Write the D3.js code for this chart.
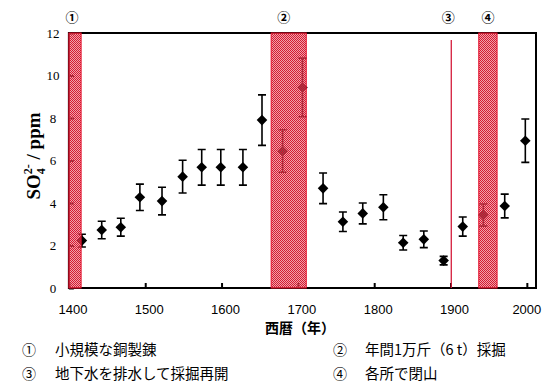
<!DOCTYPE html>
<html><head><meta charset="utf-8">
<script src="https://cdn.jsdelivr.net/npm/d3@7"></script>
<style>html,body{margin:0;padding:0;background:#fff;}svg{display:block;}</style>
</head><body>
<svg id="c" width="542" height="382"></svg>
<script>
// ---- data ----
const years  = [1417,1443,1468,1493,1522,1549,1574,1599,1628,1653,1680,1706,1733,1759,1785,1812,1838,1865,1891,1916,1943,1971,1998];
const values = [2.23,2.73,2.86,4.27,4.09,5.24,5.68,5.68,5.68,7.9,6.45,9.44,4.69,3.12,3.51,3.8,2.13,2.29,1.29,2.89,3.43,3.86,6.93];
const errors = [0.3,0.41,0.42,0.62,0.65,0.77,0.84,0.84,0.84,1.19,1.0,1.38,0.72,0.46,0.49,0.59,0.34,0.39,0.2,0.45,0.52,0.56,1.02];
const bandStarts = [1400,1665,1937];
const bandEnds   = [1416,1711,1961];
const bandLabels = ["①","②","④"];
const lineYear = 1901;
const lineLabel = "③";
const xTicks = [1400,1500,1600,1700,1800,1900,2000];
const yTicks = [0,2,4,6,8,10,12];
const xTitle = "西暦（年）";
const notes = [["①","小規模な銅製錬"],["②","年間1万斤（6 t）採掘"],["③","地下水を排水して採掘再開"],["④","各所で閉山"]];

// ---- layout ----
const svg = d3.select("#c");
const x = d3.scaleLinear().domain([1400,2012]).range([68.9,536]);
const y = d3.scaleLinear().domain([0,12]).range([288,33]);

// pattern
const defs = svg.append("defs");
const pat = defs.append("pattern").attr("id","hatch").attr("patternUnits","userSpaceOnUse")
  .attr("width",2).attr("height",2);
pat.append("rect").attr("x",0).attr("y",0).attr("width",1).attr("height",1).attr("fill","#d41a32");
pat.append("rect").attr("x",1).attr("y",1).attr("width",1).attr("height",1).attr("fill","#d41a32");
pat.append("rect").attr("x",1).attr("y",0).attr("width",1).attr("height",1).attr("fill","rgba(232,96,112,0.6)");
pat.append("rect").attr("x",0).attr("y",1).attr("width",1).attr("height",1).attr("fill","rgba(232,96,112,0.6)");

// axes ticks (inward)
const xAxis = d3.axisBottom(x).tickValues(xTicks).tickSize(0).tickFormat("");
const gx = svg.append("g").attr("transform",`translate(0,${y(0)})`).call(xAxis);
gx.select(".domain").remove();
gx.selectAll(".tick").append("line").attr("y1",0).attr("y2",-5).attr("stroke","#000").attr("stroke-width",2);

const yAxis = d3.axisLeft(y).tickValues(yTicks).tickSize(0).tickFormat("");
const gy = svg.append("g").attr("transform",`translate(${x(1400)},0)`).call(yAxis);
gy.select(".domain").remove();
gy.selectAll(".tick").append("line").attr("x1",0).attr("x2",5).attr("stroke","#000").attr("stroke-width",2);

// frame
const [x0,x1] = x.range(), [yb,yt] = y.range();
svg.append("path").attr("d",`M${x0},${yt}H${x1}V${yb}H${x0}Z`).attr("fill","none").attr("stroke","#000").attr("stroke-width",2);

// tick labels
svg.append("g").selectAll("text").data(xTicks).join("text")
  .attr("x",d=>x(d)+(d===2000?0:4)).attr("y",314).attr("text-anchor","middle")
  .attr("font-family","Liberation Sans, Arial, sans-serif").attr("font-size",13).attr("fill","#000")
  .text(d=>d);
svg.append("g").selectAll("text").data(yTicks).join("text")
  .attr("x",53).attr("y",d=>y(d)).attr("dy","0.35em").attr("text-anchor","middle")
  .attr("font-family","Liberation Serif, Times New Roman, serif").attr("font-size",13).attr("fill","#000")
  .text(d=>d);

// data points
const pts = years.map((yr,i)=>({yr, v:values[i], e:errors[i]}));
const gp = svg.append("g");
gp.selectAll("line.eb").data(pts).join("line").attr("class","eb")
  .attr("x1",d=>x(d.yr)).attr("x2",d=>x(d.yr)).attr("y1",d=>y(d.v+d.e)).attr("y2",d=>y(d.v-d.e))
  .attr("stroke","#000").attr("stroke-width",1.6);
gp.selectAll("path.cap").data(pts).join("path").attr("class","cap")
  .attr("d",d=>`M${x(d.yr)-4},${y(d.v+d.e)}H${x(d.yr)+4}M${x(d.yr)-4},${y(d.v-d.e)}H${x(d.yr)+4}`)
  .attr("stroke","#000").attr("stroke-width",1.6);
gp.selectAll("path.pt").data(pts).join("path").attr("class","pt")
  .attr("d",d3.symbol().type(d3.symbolSquare).size(56))
  .attr("transform",d=>`translate(${x(d.yr)},${y(d.v)}) rotate(45)`)
  .attr("fill","#000");

// bands (overlay)
const bands = bandStarts.map((s,i)=>({s, e:bandEnds[i], label:bandLabels[i]}));
svg.append("g").selectAll("rect").data(bands).join("rect")
  .attr("x",d=>x(d.s)).attr("width",d=>x(d.e)-x(d.s)).attr("y",yt).attr("height",yb-yt)
  .attr("fill","url(#hatch)").attr("stroke","#e4102c").attr("stroke-width",1);
svg.append("line").attr("x1",x(lineYear)).attr("x2",x(lineYear)).attr("y1",yt+7).attr("y2",yb)
  .attr("stroke","#d41c3c").attr("stroke-width",1.3);

// event labels
const evs = bands.map(b=>({pos:(b.s+b.e)/2, label:b.label})).concat([{pos:lineYear, label:lineLabel}]);
svg.append("g").selectAll("text").data(evs).join("text")
  .attr("x",d=>x(d.pos)-(d.label==="②"?5:d.label==="③"?3:d.label==="①"?3:0)).attr("y",17).attr("dy","0.35em")
  .attr("text-anchor","middle").attr("font-family","Noto Sans CJK JP, sans-serif").attr("font-size",13)
  .attr("font-weight","bold").attr("fill","#000")
  .text(d=>d.label);

// y title
const yt_ = svg.append("text").attr("transform","translate(40,156) rotate(-90)")
  .attr("text-anchor","middle").attr("font-family","Liberation Serif, Times New Roman, serif")
  .attr("font-weight","bold").attr("font-size",19).attr("fill","#000");
yt_.append("tspan").text("SO");
yt_.append("tspan").attr("font-size",12).attr("dy",5).text("4");
yt_.append("tspan").attr("font-size",12).attr("dx",-6).attr("dy",-13).text("2-");
yt_.append("tspan").attr("dy",8).text(" / ppm");

// x title
svg.append("text").attr("x",300).attr("y",333).attr("text-anchor","middle")
  .attr("font-family","Noto Sans CJK JP, sans-serif").attr("font-weight","bold").attr("font-size",14)
  .attr("fill","#000").text(xTitle);

// notes
const noteX = [22,333], textX = [55,365], noteY = [355,379];
notes.forEach((n,i)=>{
  const col = i%2, row = Math.floor(i/2);
  svg.append("text").attr("x",noteX[col]).attr("y",noteY[row])
    .attr("font-family","Noto Sans CJK JP, sans-serif").attr("font-size",14).attr("fill","#000").text(n[0]);
  svg.append("text").attr("x",textX[col]).attr("y",noteY[row])
    .attr("font-family","Noto Sans CJK JP, sans-serif").attr("font-size",14.5).attr("fill","#000").text(n[1]);
});
</script>
</body></html>
